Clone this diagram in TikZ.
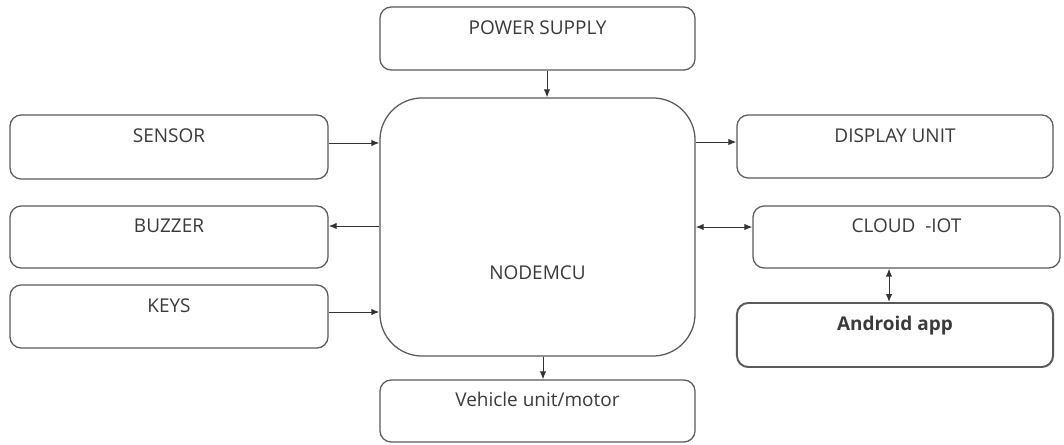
\documentclass[tikz,border=0pt]{standalone}
\usepackage{fontspec}
\setmainfont{Open Sans}
\usetikzlibrary{arrows.meta,positioning,calc}
\definecolor{BoxGray}{HTML}{5A5A5A}
\definecolor{TextGray}{HTML}{3A3A3A}

\begin{document}
\begin{tikzpicture}[
    x=0.025cm, y=-0.025cm,
    block/.style={draw=BoxGray, fill=white, rounded corners=8pt, line width=0.9pt, font=\fontsize{13.5}{16}\selectfont, text=TextGray, align=center, inner sep=0pt, text height=0.25cm, text depth=0.47cm},
    mcubox/.style={block, rounded corners=30pt, text height=2.6cm, text depth=0pt},
    arr/.style={-{Latex[length=2mm,width=1.6mm]}, draw=black!80, line width=0.7pt},
    darr/.style={{Latex[length=2mm,width=1.6mm]}-{Latex[length=2mm,width=1.6mm]}, draw=black!80, line width=0.7pt}
  ]
    \useasboundingbox (0,0) rectangle (1064,445);

    \node[block, minimum width=7.875cm, minimum height=1.575cm] (pwr) at (537.5,38.5) {POWER SUPPLY};
    \node[mcubox, minimum width=7.875cm, minimum height=6.45cm] (mcu) at (537.5,227) {NODEMCU};
    \node[block, minimum width=7.875cm, minimum height=1.55cm] (veh) at (537.5,411) {Vehicle unit/motor};

    \node[block, minimum width=7.95cm, minimum height=1.6cm] (sensor) at (169,147) {SENSOR};
    \node[block, minimum width=7.95cm, minimum height=1.55cm] (buzzer) at (169,237) {BUZZER};
    \node[block, minimum width=7.95cm, minimum height=1.575cm] (keys) at (169,316.5) {KEYS};

    \node[block, minimum width=7.9cm, minimum height=1.575cm] (disp) at (895,146.5) {DISPLAY UNIT};
    \node[block, minimum width=7.675cm, minimum height=1.55cm] (cloud) at (906.5,237) {CLOUD\ \ -IOT};
    \node[block, line width=1.4pt, minimum width=7.9cm, minimum height=1.6cm, font=\fontsize{13.5}{16}\selectfont\bfseries] (app) at (895,335) {Android app};

    % links round the controller
    \draw[arr] (547,0 |- pwr.south) -- (547,0 |- mcu.north);
    \draw[arr] (sensor.east |- 0,143) -- (mcu.west |- 0,143);
    \draw[arr] (mcu.west |- 0,226) -- (buzzer.east |- 0,226);
    \draw[arr] (keys.east |- 0,312) -- (mcu.west |- 0,312);
    \draw[arr] (mcu.east |- 0,142) -- (disp.west |- 0,142);
    \draw[darr] (mcu.east |- 0,227) -- (cloud.west |- 0,227);
    \draw[darr] (889,0 |- cloud.south) -- (889,0 |- app.north);
    \draw[arr] (543,0 |- mcu.south) -- (543,0 |- veh.north);
  \end{tikzpicture}
\end{document}
